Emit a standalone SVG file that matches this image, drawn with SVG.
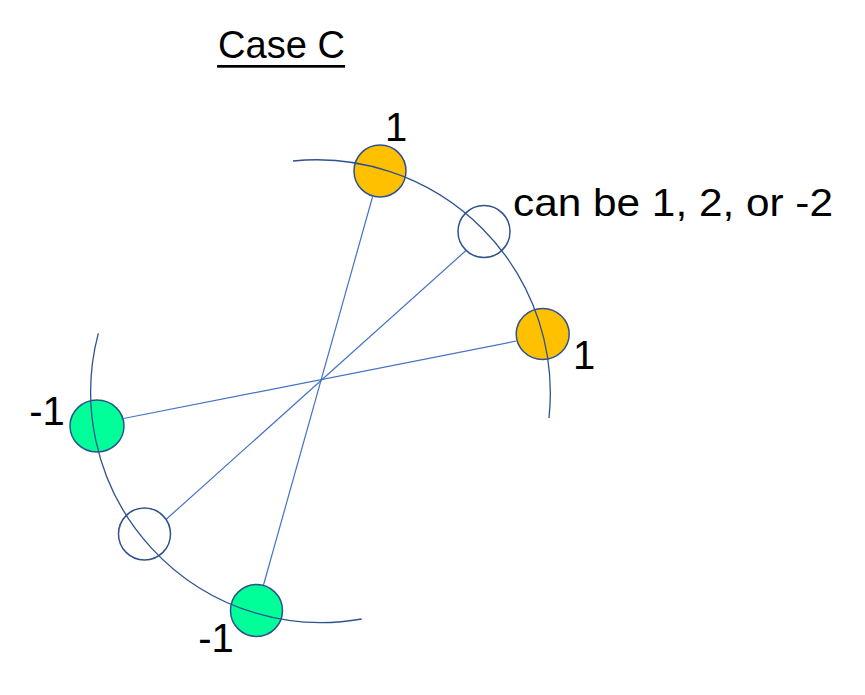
<svg xmlns="http://www.w3.org/2000/svg" width="865" height="695" viewBox="0 0 865 695">
<style>
text{font-family:"Liberation Sans",Arial,sans-serif;fill:#000}
.lbl{font-size:40px;text-anchor:middle}
.arc{fill:none;stroke:#2F528F;stroke-width:1.3}
.conn{stroke:#4472C4;stroke-width:1.2;fill:none}
.node{stroke:#2F528F;stroke-width:1.5}
</style>
<rect width="865" height="695" fill="#fff"/>
<g id="title">
<text x="218" y="58" font-size="39" textLength="127" lengthAdjust="spacingAndGlyphs">Case C</text>
<rect x="217" y="65" width="128" height="2.7" fill="#000"/>
</g>
<g id="connectors">
<line class="conn" x1="372.5" y1="197" x2="263.5" y2="585"/>
<line class="conn" x1="516.5" y1="341" x2="123.5" y2="418.5"/>
<line class="conn" x1="466" y1="250.5" x2="166" y2="519.5"/>
</g>
<g id="node-top">
<circle class="node" cx="380" cy="171" r="26" fill="#FFC000"/>
<text class="lbl" x="396" y="141">1</text>
</g>
<g id="node-open-top">
<circle class="node" cx="484" cy="231.5" r="26" fill="none"/>
<text x="513" y="215.5" font-size="39" textLength="320" lengthAdjust="spacingAndGlyphs">can be 1, 2, or -2</text>
</g>
<g id="node-right">
<ellipse class="node" cx="542.7" cy="334" rx="26.5" ry="25.5" fill="#FFC000"/>
<text class="lbl" x="584" y="369">1</text>
</g>
<g id="node-left">
<ellipse class="node" cx="97" cy="426" rx="27" ry="26" fill="#00FF99"/>
<text class="lbl" x="47" y="425">-1</text>
</g>
<g id="node-open-bottom">
<circle class="node" cx="144.5" cy="534" r="26" fill="none"/>
</g>
<g id="node-bottom">
<circle class="node" cx="256.5" cy="610.5" r="26" fill="#00FF99"/>
<text class="lbl" x="216" y="652">-1</text>
</g>
<g id="arcs">
<path class="arc" d="M293,161 A233.5,233.5 0 0 1 549,418"/>
<path class="arc" d="M98.3,333.3 A230.5,230.5 0 0 0 361.7,619"/>
</g>
</svg>
